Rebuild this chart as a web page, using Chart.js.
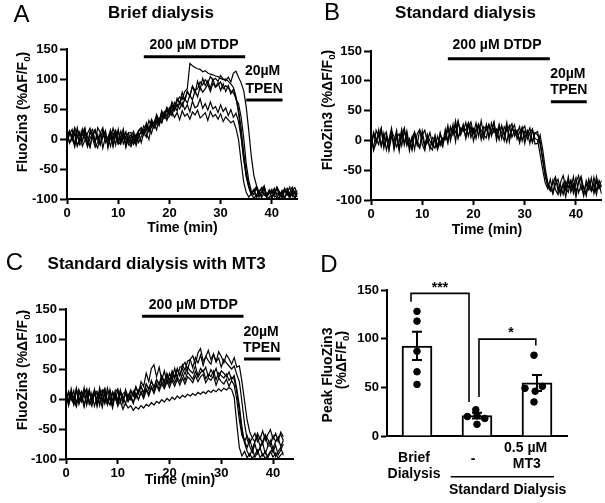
<!DOCTYPE html>
<html><head><meta charset="utf-8">
<script src="https://cdn.jsdelivr.net/npm/chart.js@4.4.0/dist/chart.umd.min.js"></script>
<style>
html,body{margin:0;padding:0;background:#fff;}
body{width:605px;height:503px;position:relative;overflow:hidden;}
canvas{position:absolute;}
</style></head><body>
<canvas id="cA" width="300" height="250" style="left:0;top:0"></canvas>
<canvas id="cB" width="305" height="250" style="left:300px;top:0"></canvas>
<canvas id="cC" width="300" height="253" style="left:0;top:250px"></canvas>
<canvas id="cD" width="305" height="253" style="left:300px;top:250px"></canvas>
<script>
// ---------- DATA ----------
const SAMPLE_STEP_MIN = 0.5;           // traces sampled every 0.5 min starting at t = 0
const timeTicks = [0, 10, 20, 30, 40];
const fluoTicks = [-100, -50, 0, 50, 100, 150];
const peakTicks = [0, 50, 100, 150];

// Panel A - Brief dialysis (%ΔF/F0)
const traceA1 = [6,14,-3,9,-11,-2,17,4,-8,12,1,-14,-5,10,19,-6,3,-12,8,15,-4,-9,11,2,-7, -13,0,8,-6, 4,16,9,-1,24,18,31,22,40,35,48,41,57,52,63,70, 66,79,84,126,122,119,117,116,112,114,110,108,107,105,104,101,99,100,96,92, 86,71,43,6,-33,-61,-79,-90,-84,-96,-88,-81,-93,-97,-86,-90,-82,-95,-99,-87,-84,-94,-89,-80,-92,-96];
const traceA2 = [-5,8,16,-9,3,12,-12,-2,9,18,5,-7,-15,6,11,-4,2,15,-10,7,-1,13,-8,4,10, -6,7,-11,3, 14,6,21,12,29,20,37,26,33,46,38,52,45,61,54,59, 70,64,79,72,88,81,84,95,90,99,93,104,98,101,96,106,100,97,103,95, 110,113,103,94,81,54,14,-29,-61,-77,-89,-83,-79,-94,-86,-98,-91,-80,-88,-96,-84,-90,-99,-85,-81,-93];
const traceA3 = [11,-6,2,19,7,-10,-3,14,4,-13,9,16,-1,-8,6,13,-12,1,18,5,-9,-4,12,-14,3, 7,-9,-2,10, -6,11,3,20,9,26,15,34,27,40,31,49,39,55,47,62, 54,67,60,73,65,81,70,87,78,84,91,79,93,86,90,95,84,89,85,80, 77,68,49,19,-21,-54,-77,-92,-85,-98,-89,-94,-81,-96,-87,-99,-84,-92,-88,-97,-82,-91,-95,-86,-99,-90];
const traceA4 = [-2,13,5,-11,18,-6,8,1,-13,11,16,-4,7,-9,3,14,-15,9,-1,12,-7,5,17,-10,0, -9,8,3,13, 16,8,23,13,29,19,25,34,27,41,33,38,45,36,44,32, 47,38,42,33,45,40,48,35,39,44,31,46,37,41,33,42,29,37,32,27, 30,18,-1,-37,-71,-89,-97,-91,-99,-93,-86,-98,-90,-95,-99,-87,-94,-98,-89,-92,-99,-85,-96,-91,-88,-97];
const traceA5 = [9,-7,4,15,-12,2,11,19,-5,-14,7,13,1,-10,16,5,-3,10,-13,8,14,-6,0,12,-9, 4,13,-5,9, 9,22,14,31,20,28,38,27,45,36,51,42,55,47,58,50, 61,49,57,45,63,52,55,67,51,59,48,62,50,54,44,57,46,52,39,49, 36,43,29,3,-31,-63,-81,-93,-86,-79,-95,-88,-83,-97,-90,-84,-96,-81,-91,-98,-87,-82,-94,-89,-99,-85];
const traceA6 = [-8,12,3,-13,17,6,-4,14,-11,1,9,-6,19,11,-15,4,-2,13,8,-10,16,-5,7,-12,10, 11,-7,5,15, 19,10,27,15,33,24,41,30,47,38,53,46,62,52,68,59, 78,65,80,71,88,76,96,83,101,89,97,84,100,87,94,81,92,79,89,75, 83,66,59,37,3,-41,-69,-87,-93,-81,-97,-88,-78,-94,-85,-99,-89,-82,-95,-86,-98,-90,-80,-96,-87,-92];

// Panel B - Standard dialysis
const traceB1 = [13,-17,-4,8,21,-9,3,-15,16,6,-11,-2,19,-8,10,-18,4,14,-6,-13,9,17,-3,-10,-16, 5,-14,-1,-11, 12,-5,23,9,27,3,21,15,30,7,25,-1,19,28,11,2, 27,8,16,31,5,22,13,-1,24,7,18,26,2,14,21,-5,17,9,-3,12, 15,-7,-33,-61,-77,-85,-66,-83,-91,-70,-59,-79,-87,-68,-81,-63,-88,-75,-93,-67,-79,-85,-62,-83,-73,-90];
const traceB2 = [-11,14,3,-7,19,-13,9,-3,15,-16,5,11,-9,18,-5,2,-14,12,-8,17,6,-12,-1,13,-6, -13,7,-9,4, 1,18,8,27,-2,31,16,22,6,29,13,20,3,25,17,9, 4,26,14,30,0,19,23,11,-3,21,28,7,15,-4,18,24,2,13,19,-6, -5,9,-15,-47,-71,-79,-89,-65,-76,-92,-71,-84,-61,-87,-73,-95,-69,-60,-81,-89,-65,-85,-72,-91,-67,-78];
const traceB3 = [4,-14,17,7,-9,12,-16,1,21,-11,9,-18,13,-4,16,-10,6,-15,11,18,-7,-17,10,-1,-9, 9,-11,13,-5, 19,-1,21,11,33,5,14,27,3,23,31,12,29,7,33,9, 23,3,29,13,19,1,25,9,30,-2,21,11,17,-1,22,5,15,-5,18,3, 1,-23,-49,-71,-81,-65,-89,-73,-65,-85,-75,-95,-67,-81,-61,-87,-71,-64,-91,-73,-83,-63,-89,-69,-79,-67];
const traceB4 = [-15,11,-4,18,-10,7,14,-17,6,-2,17,-13,8,21,-9,3,-16,13,0,-12,16,-8,9,-15,5, 1,-15,11,-3, 5,25,-1,19,13,33,9,21,17,29,5,19,15,25,1,23, 17,27,7,21,11,27,3,23,15,25,5,17,11,23,-1,15,9,21,-3,13, 9,-1,-29,-57,-73,-83,-71,-61,-85,-75,-91,-69,-79,-67,-89,-71,-59,-83,-77,-93,-67,-79,-87,-61,-81,-75];

// Panel C - Standard dialysis with MT3
const traceC1 = [9,-11,7,-5,15,-9,5,-13,10,-3,-12,12,-7,4,-14,9,-9,2,-15,7,-11,-4,-17,-7,-15, -11,-19,-13,-17, -11,-15,-9,-12,-6,-10,-4,-7,-1,-5,1,-3,3,-1,5,1, 6,3,8,5,9,6,11,8,12,9,14,11,15,12,17,13,18,15,19,16, 3,-41,-81,-95,-87,-98,-91,-99,-93,-85,-98,-91,-99,-94,-87,-97,-90,-99,-93,-89];
const traceC2 = [13,-9,17,-3,-13,14,-1,19,-10,11,-4,16,-12,8,15,-7,18,1,-9,14,-2,11,-8,16,3, 15,5,21,9, 29,21,43,29,51,57,37,53,31,47,27,43,33,51,35,53, 55,61,48,66,72,58,77,84,63,70,81,66,75,62,79,71,60,74,67,58, 69,53,55,29,-3,-35,-55,-65,-71,-57,-67,-53,-69,-59,-51,-67,-57,-71,-55,-63];
const traceC3 = [-7,13,3,-9,17,1,-5,11,16,-8,-2,14,7,-11,10,18,-4,-9,12,5,-6,15,-3,9,2, 13,5,19,9, 21,11,25,17,29,19,31,23,37,25,39,27,43,33,51,39, 57,48,63,66,52,69,60,73,56,71,64,58,75,62,68,53,66,60,55,50, 55,41,29,-5,-41,-67,-79,-89,-75,-91,-81,-73,-91,-79,-77,-89,-77,-93,-85,-75];
const traceC4 = [8,-7,12,3,-10,15,-1,7,17,-8,10,-12,4,13,-5,11,-9,16,-2,5,-11,14,0,8,-4, 3,-7,9,-1, 13,3,17,9,21,13,25,17,29,21,31,25,35,27,37,29, 43,31,45,39,33,46,36,44,48,34,41,37,47,32,44,39,35,42,31,36, 33,13,-21,-55,-69,-81,-67,-83,-71,-63,-79,-71,-61,-77,-69,-83,-71,-65,-79,-69];
const traceC5 = [15,-3,9,-9,18,-4,13,6,-8,16,-5,12,-10,19,2,-7,10,14,-12,11,17,-2,4,-8,8, -1,13,1,15, 21,9,25,15,31,19,33,25,39,29,43,31,47,37,49,39, 51,41,53,47,43,55,39,51,45,53,37,49,41,51,35,47,43,37,45,33, 39,17,-11,-47,-73,-87,-95,-83,-97,-89,-81,-95,-87,-98,-89,-83,-96,-87,-81,-94];
const traceC6 = [-9,10,-2,14,-7,8,12,-11,6,15,-5,9,13,-8,7,16,-3,-10,11,-1,14,-6,9,12,-4, 7,-7,10,-1, 11,1,15,5,19,9,23,13,25,17,29,19,31,21,33,23, 35,25,37,33,27,39,29,37,41,27,35,31,39,23,35,29,25,33,21,31, 23,-1,-35,-61,-71,-61,-73,-65,-57,-71,-63,-75,-59,-67,-77,-61,-71,-63,-59,-69];

// drug application bars [start min, end min]
const dtdpSpanA = [15.0, 34.8], tpenSpanA = [35.0, 42.1];
const dtdpSpanB = [15.0, 34.9], tpenSpanB = [35.1, 42.1];
const dtdpSpanC = [14.7, 34.3], tpenSpanC = [34.4, 41.4];

// Panel D - peak FluoZin3
const groupLabels = ['Brief Dialysis', '-', '0.5 µM MT3'];
const peakMean = [92.5, 20.9, 54.5];
const peakSEM = [14.5, 3.0, 8.2];
const peakBrief = [128, 118, 87, 66, 53];
const peakStandard = [27, 20, 21, 18, 12];
const peakMT3 = [83, 49, 46, 51, 35];
const jitterBrief = [0, 0, 0, 0, 0];
const jitterStandard = [-0.02, -0.16, 0, 0.13, 0];
const jitterMT3 = [-0.05, -0.2, -0.03, 0.09, -0.05];

// ---------- RENDERING ----------
const FONT = "'Liberation Sans', Arial, Helvetica, sans-serif";
const toXY = vals => vals.map((v, i) => ({x: i * SAMPLE_STEP_MIN, y: v}));

function drawRich(ctx, parts, x, y, size, weight, align) {
  const widths = parts.map(p => { ctx.font = `${weight} ${p.sub ? size * 0.7 : size}px ${FONT}`; return ctx.measureText(p.t).width; });
  const total = widths.reduce((a, b) => a + b, 0);
  let cx = align === 'left' ? x : (align === 'right' ? x - total : x - total / 2);
  ctx.textAlign = 'left'; ctx.textBaseline = 'middle';
  parts.forEach((p, i) => {
    ctx.font = `${weight} ${p.sub ? size * 0.7 : size}px ${FONT}`;
    ctx.fillText(p.t, cx, y + (p.sub ? size * 0.28 : 0));
    cx += widths[i];
  });
}

const annotPlugin = {
  id: 'annot',
  afterDraw(chart, args, opts) {
    const ctx = chart.ctx;
    (opts.items || []).forEach(it => {
      let x = it.px, y = it.py;
      if (it.dx !== undefined) x = chart.scales.x.getPixelForValue(it.dx);
      if (it.dy !== undefined) y = chart.scales.y.getPixelForValue(it.dy);
      ctx.save();
      ctx.fillStyle = '#000';
      if (it.rot) { ctx.translate(x, y); ctx.rotate(-Math.PI / 2); x = 0; y = 0; }
      drawRich(ctx, it.parts || [{t: it.text}], x, y, it.size || 14, it.weight || 'bold', it.align || 'center');
      ctx.restore();
    });
    (opts.lines || []).forEach(l => {
      const xs = chart.scales.x, ys = chart.scales.y;
      ctx.save(); ctx.strokeStyle = '#000'; ctx.lineWidth = l.w || 2;
      ctx.beginPath();
      ctx.moveTo(xs.getPixelForValue(l.x0), ys.getPixelForValue(l.y));
      ctx.lineTo(xs.getPixelForValue(l.x1), ys.getPixelForValue(l.y));
      ctx.stroke(); ctx.restore();
    });
  }
};

const tickFont = {family: FONT, size: 13, weight: 'bold'};
const yTitleParts = [{t: 'FluoZin3 (%ΔF/F'}, {t: '0', sub: true}, {t: ')'}];

function traceChart(id, traces, o) {
  const ds = traces.map(tr => ({data: toXY(tr), borderColor: '#000', borderWidth: 1.2, pointRadius: 0, tension: 0, fill: false}));
  ds.push({data: [{x: o.dtdp[0], y: o.dtdpY}, {x: o.dtdp[1], y: o.dtdpY}], borderColor: '#000', borderWidth: 3, pointRadius: 0});
  ds.push({data: [{x: o.tpen[0], y: o.tpenY}, {x: o.tpen[1], y: o.tpenY}], borderColor: '#000', borderWidth: 3, pointRadius: 0});
  return new Chart(document.getElementById(id), {
    type: 'scatter',
    data: {datasets: ds.map(d => Object.assign({type: 'line', showLine: true}, d))},
    plugins: [annotPlugin],
    options: {
      responsive: false, animation: false, events: [], devicePixelRatio: 1,
      layout: {padding: {left: 0, right: o.R, top: o.T, bottom: 0}},
      plugins: {legend: {display: false}, tooltip: {enabled: false},
        annot: {items: o.items}},
      scales: {
        x: {type: 'linear', min: 0, max: o.xMax, offset: false,
          afterBuildTicks: s => { s.ticks = timeTicks.map(v => ({value: v})); },
          afterFit: s => { s.height = o.B; },
          ticks: {font: tickFont, color: '#000', padding: 2, maxRotation: 0, autoSkip: false},
          grid: {drawOnChartArea: false, drawTicks: true, tickLength: 5, tickWidth: 2, tickColor: '#000'},
          border: {display: true, color: '#000', width: 2}},
        y: {type: 'linear', min: -100, max: 150,
          afterBuildTicks: s => { s.ticks = fluoTicks.map(v => ({value: v})); },
          afterFit: s => { s.width = o.L; },
          ticks: {font: tickFont, color: '#000', padding: 2, autoSkip: false},
          grid: {drawOnChartArea: false, drawTicks: true, tickLength: 7, tickWidth: 2, tickColor: '#000'},
          border: {display: true, color: '#000', width: 2}}
      }
    }
  });
}

function panelItems(letter, lp, title, tp, yt, xt, dl, l20, ltp) {
  return [
    {text: letter, px: lp[0], py: lp[1], size: 24, weight: 'normal'},
    {text: title, px: tp[0], py: tp[1], size: 17},
    {parts: yTitleParts, px: yt[0], py: yt[1], rot: true, size: 14},
    {text: 'Time (min)', px: xt[0], py: xt[1], size: 14},
    {text: '200 µM DTDP', dx: dl[0], dy: dl[1], size: 14},
    {text: '20µM', dx: l20[0], dy: l20[1], size: 14},
    {text: 'TPEN', dx: ltp[0], dy: ltp[1], size: 14}
  ];
}

traceChart('cA', [traceA1, traceA2, traceA3, traceA4, traceA5, traceA6], {
  xMax: 45, L: 67, R: 2.6, T: 49, B: 51, dtdp: dtdpSpanA, dtdpY: 137, tpen: tpenSpanA, tpenY: 65,
  items: panelItems('A', [21.5, 15.5], 'Brief dialysis', [161, 13], [23, 112], [182.5, 228.5], [24.8, 157], [38.2, 113], [38.5, 83])
});
traceChart('cB', [traceB1, traceB2, traceB3, traceB4], {
  xMax: 45, L: 71, R: 3.4, T: 51, B: 50, dtdp: dtdpSpanB, dtdpY: 137, tpen: tpenSpanB, tpenY: 65,
  items: panelItems('B', [32, 13], 'Standard dialysis', [165.5, 13.3], [28, 110], [187, 230], [24.6, 159], [38.4, 112], [38.6, 85])
});
traceChart('cC', [traceC1, traceC2, traceC3, traceC4, traceC5, traceC6], {
  xMax: 44, L: 66, R: 6.3, T: 59, B: 44, dtdp: dtdpSpanC, dtdpY: 138, tpen: tpenSpanC, tpenY: 66.7,
  items: panelItems('C', [14.5, 13], 'Standard dialysis with MT3', [156.7, 14.5], [23, 120], [180, 230], [24.6, 157], [37.7, 112], [37.8, 84.5])
});

// ---- Panel D ----
const errPlugin = {
  id: 'errbars',
  afterDatasetsDraw(chart) {
    const ctx = chart.ctx, xs = chart.scales.x, ys = chart.scales.y;
    ctx.save(); ctx.strokeStyle = '#000'; ctx.lineWidth = 2;
    peakMean.forEach((m, i) => {
      const x = xs.getPixelForValue(i), yt = ys.getPixelForValue(m + peakSEM[i]), yb = ys.getPixelForValue(m - peakSEM[i]);
      ctx.beginPath();
      ctx.moveTo(x, yt); ctx.lineTo(x, yb);
      ctx.moveTo(x - 5, yt); ctx.lineTo(x + 5, yt);
      ctx.moveTo(x - 5, yb); ctx.lineTo(x + 5, yb);
      ctx.stroke();
    });
    ctx.restore();
  }
};
const dots = [];
[[peakBrief, jitterBrief], [peakStandard, jitterStandard], [peakMT3, jitterMT3]].forEach(([vals, jit], g) => {
  vals.forEach((v, k) => dots.push({x: g + jit[k], y: v}));
});
const bracket = (pts) => ({type: 'line', showLine: true, data: pts, borderColor: '#000', borderWidth: 1.6, pointRadius: 0, tension: 0, order: 0, clip: false});

new Chart(document.getElementById('cD'), {
  type: 'scatter',
  data: {
    datasets: [
      {type: 'bar', data: peakMean.map((m, i) => ({x: i, y: m})), backgroundColor: '#fff', borderColor: '#000', borderWidth: 2, barThickness: 30, grouped: false, order: 3},
      {type: 'scatter', data: dots, backgroundColor: '#000', borderColor: '#000', pointRadius: 3.3, order: 1},
      bracket([{x: -0.1, y: 138}, {x: -0.1, y: 146.5}, {x: 0.867, y: 146.5}, {x: 0.867, y: 35}]),
      bracket([{x: 1.033, y: 40}, {x: 1.033, y: 99.5}, {x: 1.98, y: 99.5}, {x: 1.98, y: 93}])
    ]
  },
  plugins: [annotPlugin, errPlugin],
  options: {
    responsive: false, animation: false, events: [], devicePixelRatio: 1,
    layout: {padding: {left: 0, right: 38, top: 40, bottom: 0}},
    plugins: {legend: {display: false}, tooltip: {enabled: false},
      annot: {
        items: [
          {text: 'D', px: 29, py: 15.8, size: 24, weight: 'normal'},
          {text: 'Peak FluoZin3', px: 28, py: 125, rot: true, size: 14},
          {parts: [{t: '(%ΔF/F'}, {t: '0', sub: true}, {t: ')'}], px: 42, py: 110, rot: true, size: 14},
          {text: '***', dx: 0.383, dy: 152, size: 14},
          {text: '*', dx: 1.567, dy: 106, size: 14},
          {text: groupLabels[0].split(' ')[0], dx: -0.05, dy: -22.6, size: 14},
          {text: groupLabels[0].split(' ')[1], dx: -0.05, dy: -39, size: 14},
          {text: groupLabels[1], dx: 0.933, dy: -23.6, size: 14},
          {text: '0.5 µM', dx: 1.81, dy: -12.3, size: 14},
          {text: 'MT3', dx: 1.83, dy: -28.8, size: 14},
          {text: 'Standard Dialysis', dx: 1.511, dy: -55.5, size: 14}
        ],
        lines: [{x0: 0.562, x1: 2.283, y: -41.8, w: 1.6}]
      }
    },
    scales: {
      x: {type: 'linear', min: -0.5, max: 2.5, offset: false,
        afterBuildTicks: s => { s.ticks = []; },
        afterFit: s => { s.height = 67; },
        ticks: {display: false},
        grid: {display: false},
        border: {display: true, color: '#000', width: 2}},
      y: {type: 'linear', min: 0, max: 150,
        afterBuildTicks: s => { s.ticks = peakTicks.map(v => ({value: v})); },
        afterFit: s => { s.width = 87; },
        ticks: {font: tickFont, color: '#000', padding: 2, autoSkip: false},
        grid: {drawOnChartArea: false, drawTicks: true, tickLength: 6, tickWidth: 2, tickColor: '#000'},
        border: {display: true, color: '#000', width: 2}}
    }
  }
});
</script>
</body></html>
